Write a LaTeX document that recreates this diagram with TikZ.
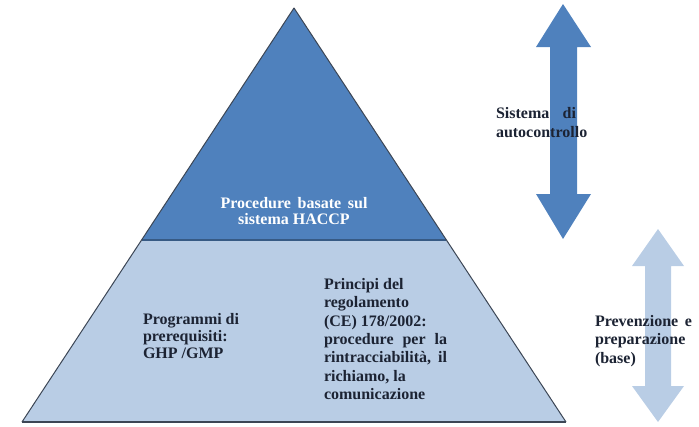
\documentclass[tikz,border=0pt]{standalone}
\usepackage{fontspec}
\setmainfont{Liberation Serif}
\usetikzlibrary{calc}
\definecolor{topblue}{RGB}{79,129,189}
\definecolor{baseblue}{RGB}{185,205,229}
\definecolor{edgegray}{RGB}{60,70,85}
\definecolor{inkdark}{RGB}{28,35,51}
\newcommand{\jline}[2]{\makebox[#1][s]{#2}}
\begin{document}
\begin{tikzpicture}[x=1pt,y=-1pt,
  txt/.style={inner sep=0pt, outer sep=0pt, text=inkdark, align=left, anchor=north west,
              font=\fontsize{16}{18.3}\selectfont\bfseries},
  outline/.style={draw=edgegray, line width=1pt, line join=round}]
\useasboundingbox (0,0) rectangle (699,426);
% pyramid
\coordinate (apex) at (294,8);
\coordinate (bl) at (22,422);
\coordinate (br) at (566,422);
\coordinate (dl) at ($(apex)!0.5604!(bl)$);
\coordinate (dr) at ($(apex)!0.5604!(br)$);
\fill[baseblue] (dl) -- (dr) -- (br) -- (bl) -- cycle;
\fill[topblue] (apex) -- (dr) -- (dl) -- cycle;
\draw[draw=topblue!70!black, line width=1.2pt] (dl) -- (dr);
\draw[outline] (bl) -- (apex) -- (br);
\draw[draw=edgegray, line width=2.6pt] (bl) -- (br);
% arrows
\fill[topblue] (563,4) -- (591,47) -- (577,47) -- (577,194) -- (591,194) -- (563,239)
  -- (536,194) -- (550,194) -- (550,47) -- (536,47) -- cycle;
\fill[baseblue] (658,229) -- (684,266) -- (671,266) -- (671,386) -- (684,386) -- (658,422)
  -- (632,386) -- (645,386) -- (645,266) -- (632,266) -- cycle;
% texts
\node[txt, anchor=north, align=center, text=white, font=\fontsize{16}{16.5}\selectfont\bfseries]
  (haccp) at (294,197) {\jline{147pt}{Procedure basate sul}\\sistema HACCP};
\node[txt, font=\fontsize{16}{17}\selectfont\bfseries] (prog) at (143,313.5) {\jline{96pt}{Programmi di}\\prerequisiti:\\GHP /GMP};
\node[txt] (princ) at (324,278.5) {Principi del\\regolamento\\(CE) 178/2002:\\\jline{123pt}{procedure per la}\\\jline{123pt}{rintracciabilità, il}\\richiamo, la\\comunicazione};
\node[txt, font=\fontsize{16}{19}\selectfont\bfseries] (sist) at (496,107.5) {\jline{80pt}{Sistema di}\\autocontrollo};
\node[txt] (prev) at (595,315.5) {\jline{97pt}{Prevenzione e}\\preparazione\\(base)};
\end{tikzpicture}
\end{document}
